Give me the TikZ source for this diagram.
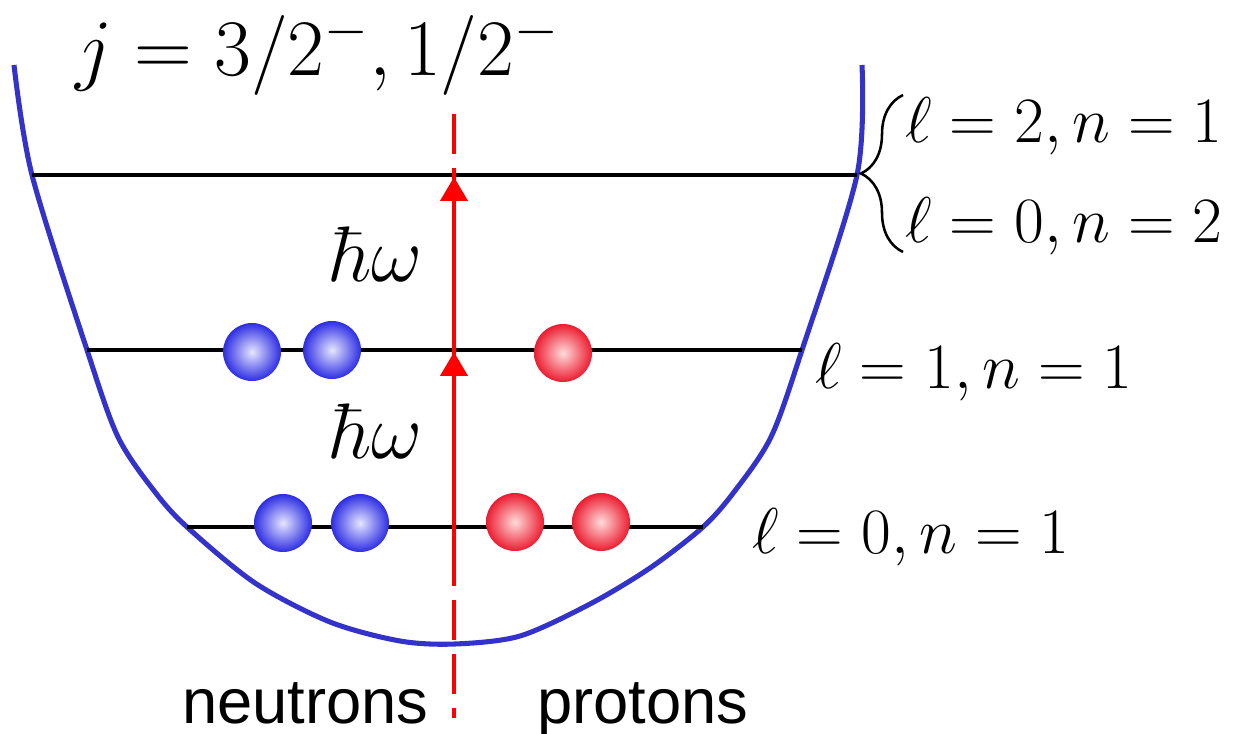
\documentclass[tikz,border=0pt]{standalone}
\usepackage{fix-cm}
\usepackage{amsmath}
\usepackage{fontspec}
\setsansfont{Liberation Sans}
\usetikzlibrary{arrows.meta,decorations.pathreplacing,positioning}

\definecolor{wellblue}{RGB}{51,51,204}
\definecolor{nblue}{RGB}{45,45,228}
\definecolor{pred}{RGB}{236,28,48}

\tikzset{
  level/.style={line width=3.2pt,black},
  well/.style={line width=3.6pt,wellblue},
  neutron/.style={circle,inner sep=0pt,minimum size=1.45cm,shading=radial,inner color=blue!10,outer color=nblue},
  proton/.style={circle,inner sep=0pt,minimum size=1.45cm,shading=radial,inner color=red!14,outer color=pred},
  jump/.style={red,line width=3.4pt,-{Triangle[length=17pt,width=19pt]}},
  axisline/.style={red,line width=3pt,dash pattern=on 28.4pt off 10pt},
  qnum/.style={anchor=base west,inner sep=0pt,font=\fontsize{46}{54}\selectfont},
  quantum/.style={anchor=base west,inner sep=0pt,font=\fontsize{56}{64}\selectfont},
  sans/.style={anchor=base west,inner sep=0pt,font=\fontsize{45}{54}\selectfont\sffamily},
}

\begin{document}
\begin{tikzpicture}[x=0.025cm,y=-0.025cm]
\useasboundingbox (0,0) rectangle (1234,734);
%\draw[help lines] (0,0) grid[step=50] (1234,734);

% the well
\draw[well] plot[smooth,tension=0.5] coordinates {(14,65) (32,175) (87,350) (118,437) (155,492)
  (187,527) (255,583) (330,622) (400,641) (455,644) (520,636) (590,604) (650,568) (703,527)
  (734,492) (771,437) (802,350) (857,175) (862,65)};

% levels
\coordinate (l2w) at (32,175);  \coordinate (l2e) at (857,175);
\coordinate (l1w) at (87,350);  \coordinate (l1e) at (802,350);
\coordinate (l0w) at (187,527); \coordinate (l0e) at (703,527);
\foreach \a/\b in {l2w/l2e,l1w/l1e,l0w/l0e}
\draw[level] (\a) -- (\b);

% nucleons
\foreach \n/\x/\y in {n1/283/523,n2/360/523,n3/252/352,n4/332/350}
\node[neutron] (\n) at (\x,\y) {};
\foreach \n/\x/\y in {p1/515/522,p2/601/522,p3/563/353}
\node[proton] (\n) at (\x,\y) {};

% excitation
\coordinate (top) at (454,114);
\coordinate (bot) at (454,718);
\coordinate (tail) at (454,548);
\coordinate (a1) at (454,352);
\coordinate (a2) at (454,177);
\draw[axisline] (top) -- (bot);
\draw[jump] (tail) -- (a1);
\draw[jump] (a1) -- (a2);

\node[quantum] (hw2) at (330,282) {$\hbar\omega$};
\node[quantum] (hw1) at (330,458) {$\hbar\omega$};

% labels
\node[anchor=base west,inner sep=0pt,font=\fontsize{57}{66}\selectfont] (jlab) at (75,76) {$j=3/2^-,1/2^-$};
\node[qnum] (q21) at (905,143) {$\ell=2,n=1$};
\node[qnum] (q02) at (905,243) {$\ell=0,n=2$};
\node[qnum] (q11) at (815,388) {$\ell=1,n=1$};
\node[qnum] (q01) at (752,553) {$\ell=0,n=1$};
\draw[line width=1.8pt,decorate,decoration={brace,amplitude=1.05cm}] (903,252) -- (903,95);

\node[sans] (neut) at (182,723) {neutrons};
\node[sans] (prot) at (537,723) {protons};
\end{tikzpicture}
\end{document}
